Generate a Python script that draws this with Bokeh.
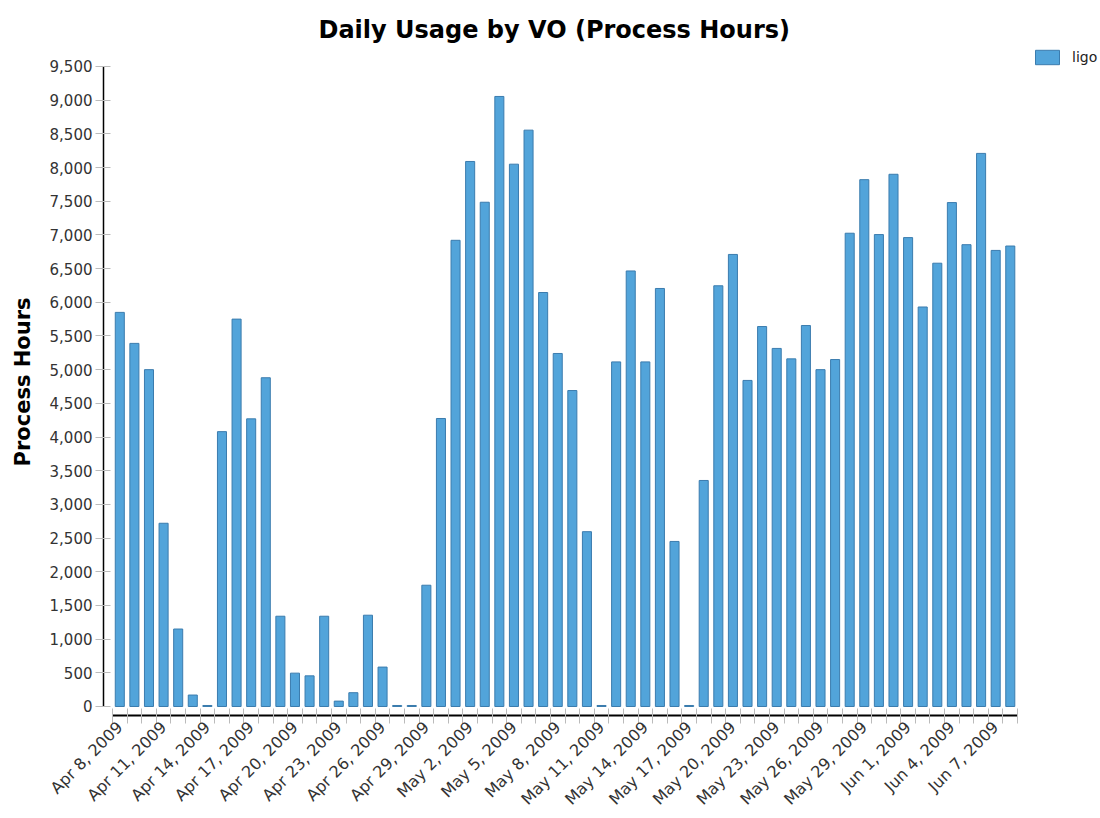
import math
from bokeh.plotting import figure
from bokeh.models import (Range1d, FixedTicker, NumeralTickFormatter, Legend,
                          LegendItem, ColumnDataSource)
from bokeh.embed import file_html
from bokeh.resources import INLINE

# ---- data ----
dates = ["Apr 8, 2009", "Apr 9, 2009", "Apr 10, 2009", "Apr 11, 2009", "Apr 12, 2009",
         "Apr 13, 2009", "Apr 14, 2009", "Apr 15, 2009", "Apr 16, 2009", "Apr 17, 2009",
         "Apr 18, 2009", "Apr 19, 2009", "Apr 20, 2009", "Apr 21, 2009", "Apr 22, 2009",
         "Apr 23, 2009", "Apr 24, 2009", "Apr 25, 2009", "Apr 26, 2009", "Apr 27, 2009",
         "Apr 28, 2009", "Apr 29, 2009", "Apr 30, 2009", "May 1, 2009", "May 2, 2009",
         "May 3, 2009", "May 4, 2009", "May 5, 2009", "May 6, 2009", "May 7, 2009",
         "May 8, 2009", "May 9, 2009", "May 10, 2009", "May 11, 2009", "May 12, 2009",
         "May 13, 2009", "May 14, 2009", "May 15, 2009", "May 16, 2009", "May 17, 2009",
         "May 18, 2009", "May 19, 2009", "May 20, 2009", "May 21, 2009", "May 22, 2009",
         "May 23, 2009", "May 24, 2009", "May 25, 2009", "May 26, 2009", "May 27, 2009",
         "May 28, 2009", "May 29, 2009", "May 30, 2009", "May 31, 2009", "Jun 1, 2009",
         "Jun 2, 2009", "Jun 3, 2009", "Jun 4, 2009", "Jun 5, 2009", "Jun 6, 2009",
         "Jun 7, 2009", "Jun 8, 2009"]

ligo_hours = [5850, 5390, 5000, 2720, 1150, 170, 15, 4080, 5750, 4270,
              4880, 1340, 495, 455, 1340, 80, 205, 1355, 585, 15,
              15, 1800, 4275, 6920, 8090, 7485, 9055, 8050, 8555, 6145,
              5240, 4690, 2595, 15, 5115, 6465, 5115, 6205, 2450, 15,
              3355, 6245, 6710, 4840, 5640, 5315, 5160, 5655, 5000, 5150,
              7025, 7820, 7005, 7900, 6960, 5930, 6580, 7480, 6855, 8210,
              6770, 6835]

tick_labels = ["Apr 8, 2009", "Apr 11, 2009", "Apr 14, 2009", "Apr 17, 2009",
               "Apr 20, 2009", "Apr 23, 2009", "Apr 26, 2009", "Apr 29, 2009",
               "May 2, 2009", "May 5, 2009", "May 8, 2009", "May 11, 2009",
               "May 14, 2009", "May 17, 2009", "May 20, 2009", "May 23, 2009",
               "May 26, 2009", "May 29, 2009", "Jun 1, 2009", "Jun 4, 2009",
               "Jun 7, 2009"]

y_ticks = list(range(0, 9501, 500))

# ---- build ----
n = len(dates)
xpos = [i + 0.5 for i in range(n)]
src = ColumnDataSource(dict(x=xpos, top=ligo_hours, date=dates))

FONT = "DejaVu Sans"
Y_MAX = 9500

# frame: x 103..1100, y 48..715 (axis lines limited with bounds)
p = figure(width=1100, height=818, output_backend="svg", toolbar_location=None,
           x_range=Range1d(-0.616, 67.68), y_range=Range1d(-133.6, 9767),
           min_border_left=103, min_border_right=0, min_border_top=48,
           min_border_bottom=103, title="Daily Usage by VO (Process Hours)")

p.title.text_font = FONT
p.title.text_font_size = "24px"
p.title.text_font_style = "bold"
p.title.text_color = "#000000"
p.title.align = "left"
p.title.offset = 215
p.title.vertical_align = "top"
p.title.text_line_height = 1.6
p.title.standoff = 6

p.outline_line_color = None
p.xgrid.grid_line_color = None
p.ygrid.grid_line_color = None
p.background_fill_color = "white"
p.border_fill_color = "white"

r = p.vbar(x="x", top="top", bottom=0, width=0.62, source=src,
           fill_color="#52a4da", line_color="#3b7cae", line_width=1)

# y axis
ya = p.yaxis[0]
ya.ticker = FixedTicker(ticks=y_ticks)
ya.formatter = NumeralTickFormatter(format="0,0")
ya.bounds = (0, Y_MAX)
ya.axis_line_color = "#000000"
ya.axis_line_width = 1.5
ya.major_tick_line_color = "#bbbbbb"
ya.major_tick_in = 7
ya.major_tick_out = 8
ya.minor_tick_line_color = None
ya.major_label_text_font = FONT
ya.major_label_text_font_size = "15px"
ya.major_label_text_color = "#333333"
ya.major_label_standoff = 3
ya.axis_label = "Process Hours"
ya.axis_label_text_font = FONT
ya.axis_label_text_font_size = "21px"
ya.axis_label_text_font_style = "bold"
ya.axis_label_text_color = "#000000"
ya.axis_label_standoff = 12

# x axis
label_pos = [xpos[dates.index(lbl)] for lbl in tick_labels]
xa = p.xaxis[0]
xa.ticker = FixedTicker(ticks=label_pos, minor_ticks=list(range(0, n + 1)))
xa.major_label_overrides = {pos: lbl for pos, lbl in zip(label_pos, tick_labels)}
xa.bounds = (0, n)
xa.axis_line_color = "#000000"
xa.axis_line_width = 2
xa.major_tick_line_color = None
xa.major_tick_in = 0
xa.major_tick_out = 8
xa.minor_tick_line_color = "#bbbbbb"
xa.minor_tick_in = 7
xa.minor_tick_out = 8
xa.major_label_orientation = math.pi / 4
xa.major_label_text_font = FONT
xa.major_label_text_font_size = "16px"
xa.major_label_text_color = "#333333"
xa.major_label_standoff = 1

legend = Legend(items=[LegendItem(label="ligo", renderers=[r])],
                location=(929, 649), orientation="vertical",
                padding=0, margin=0, spacing=0,
                glyph_width=30, glyph_height=18, label_height=18,
                label_standoff=10, label_text_font=FONT,
                label_text_font_size="14px", label_text_color="#222222",
                border_line_color=None, background_fill_alpha=0)
p.add_layout(legend, "center")

open("out.html", "w").write(file_html(p, INLINE))
